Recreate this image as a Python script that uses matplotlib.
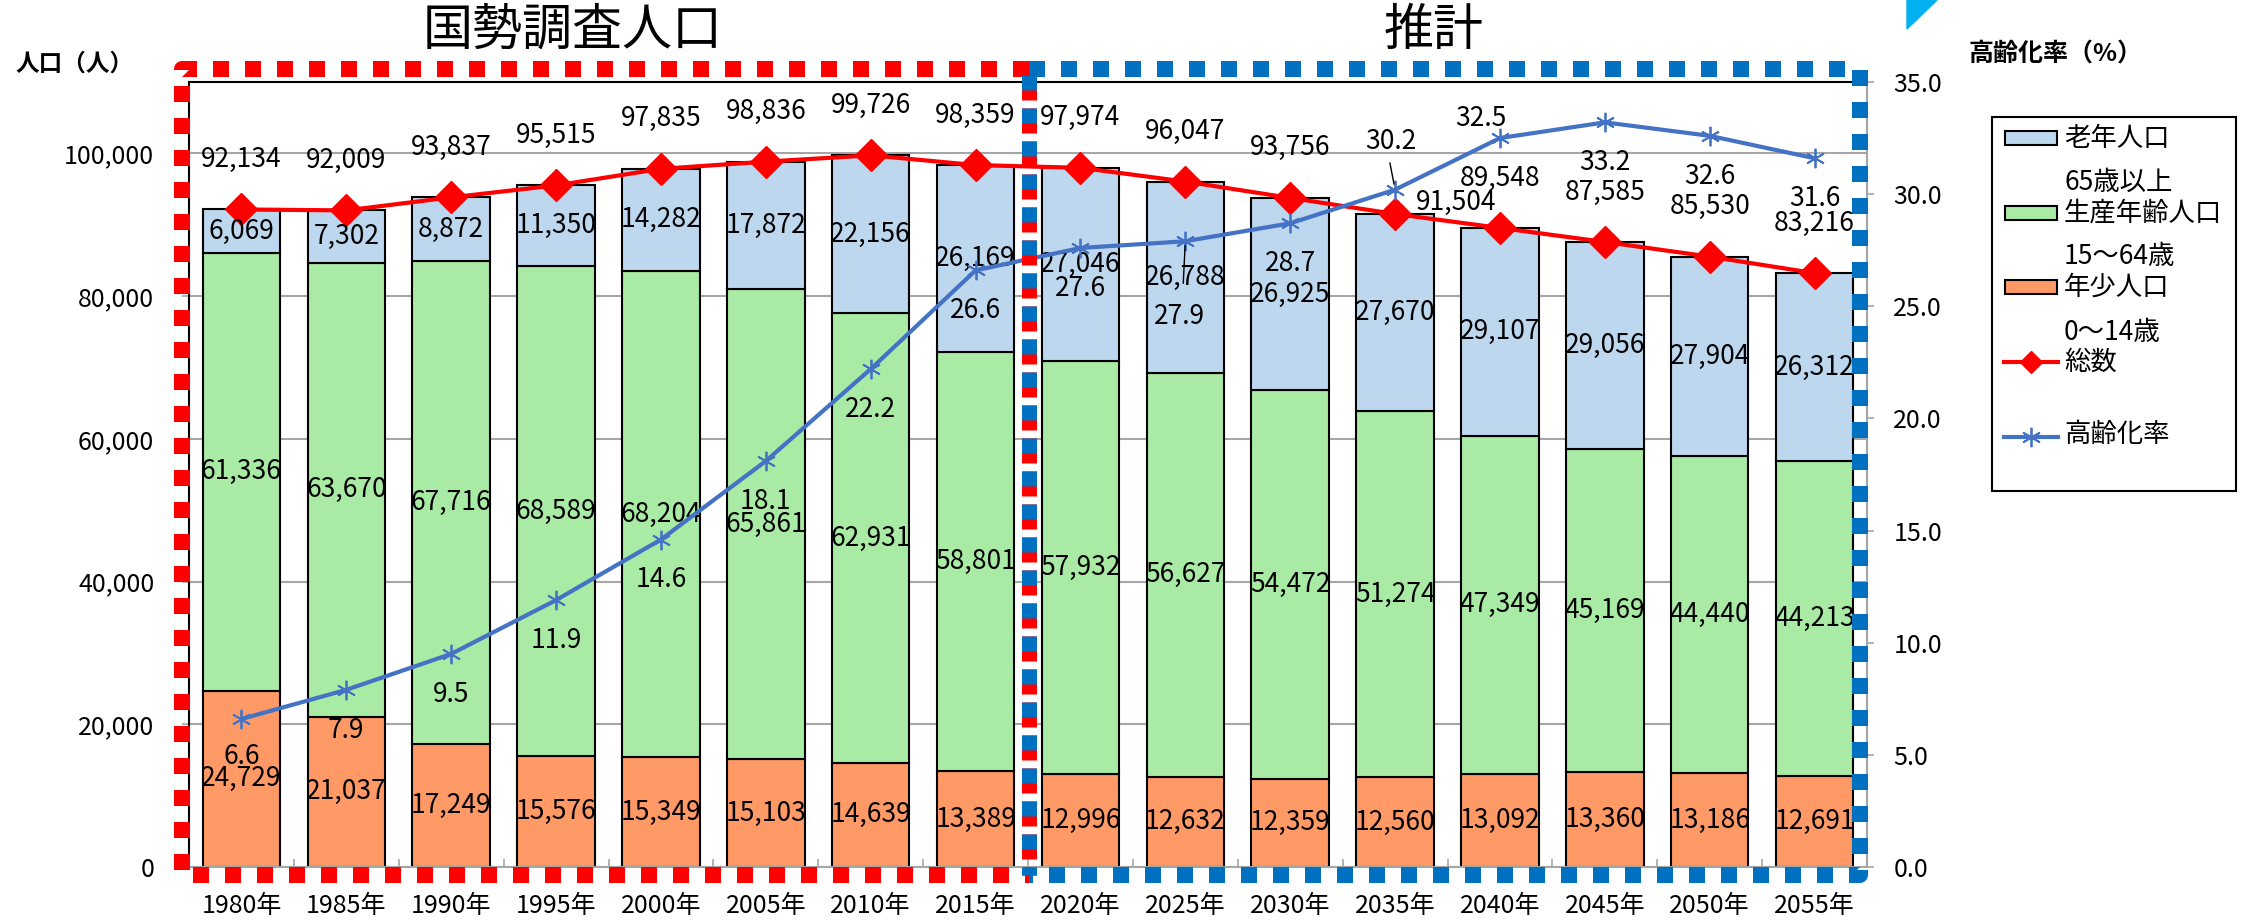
import matplotlib
matplotlib.use('Agg')
import matplotlib.pyplot as plt
from matplotlib.lines import Line2D
from matplotlib.patches import Rectangle, Polygon
import numpy as np

plt.rcParams['font.family'] = ['Noto Sans CJK JP', 'DejaVu Sans']

# ---------------- data ----------------
years = ['1980年', '1985年', '1990年', '1995年', '2000年', '2005年', '2010年', '2015年',
         '2020年', '2025年', '2030年', '2035年', '2040年', '2045年', '2050年', '2055年']
young = [24729, 21037, 17249, 15576, 15349, 15103, 14639, 13389,
         12996, 12632, 12359, 12560, 13092, 13360, 13186, 12691]
working = [61336, 63670, 67716, 68589, 68204, 65861, 62931, 58801,
           57932, 56627, 54472, 51274, 47349, 45169, 44440, 44213]
old = [6069, 7302, 8872, 11350, 14282, 17872, 22156, 26169,
       27046, 26788, 26925, 27670, 29107, 29056, 27904, 26312]
total = [92134, 92009, 93837, 95515, 97835, 98836, 99726, 98359,
         97974, 96047, 93756, 91504, 89548, 87585, 85530, 83216]
aging = [6.6, 7.9, 9.5, 11.9, 14.6, 18.1, 22.2, 26.6,
         27.6, 27.9, 28.7, 30.2, 32.5, 33.2, 32.6, 31.6]

# ---------------- style ----------------
C_OLD = '#BDD7EE'
C_WORK = '#A9EAA4'
C_YOUNG = '#FF9966'
C_RED = '#FF0000'
C_BLUE = '#4472C4'
C_GRID = '#A6A6A6'
LBL = 19

# label offsets in points
total_dx = [0] * 16
total_dy = [36] * 16
total_dx[11], total_dy[11] = 44, 8
aging_dx = [0] * 16
aging_dy = [-29] * 16
aging_dy[0] = -27
aging_dx[11], aging_dy[11] = -3, 35
aging_dx[12], aging_dy[12] = -14, 14
aging_dx[9], aging_dy[9] = -4, -54

W, H = 2247, 923
fig = plt.figure(figsize=(W / 100, H / 100), dpi=100)


def fx(px):
    return px / W


def fy(py):
    return 1 - py / H


ax = fig.add_axes([fx(189), fy(867), fx(1867) - fx(189), fy(82) - fy(867)])
x = np.arange(len(years))
bw = 0.74

young_a = np.array(young)
work_a = np.array(working)
old_a = np.array(old)

ax.bar(x, young_a, width=bw, color=C_YOUNG, edgecolor='black', linewidth=1.5, zorder=2)
ax.bar(x, work_a, width=bw, bottom=young_a, color=C_WORK, edgecolor='black', linewidth=1.5, zorder=2)
ax.bar(x, old_a, width=bw, bottom=young_a + work_a, color=C_OLD, edgecolor='black', linewidth=1.5, zorder=2)

ax.plot(x, total, color=C_RED, lw=3, marker='D', ms=16, mec=C_RED, zorder=4)

ax.set_xlim(-0.5, len(years) - 0.5)
ax.set_ylim(0, 110000)
ax.set_yticks(np.arange(0, 100001, 20000))
ax.yaxis.set_major_formatter(matplotlib.ticker.FuncFormatter(lambda v, p: f'{int(v):,}'))
ax.yaxis.grid(True, color=C_GRID, lw=1.5)
ax.set_axisbelow(True)
ax.set_xticks(x)
ax.set_xticklabels(years)
ax.set_xticks(np.arange(-0.5, len(years), 1), minor=True)
ax.tick_params(axis='x', which='major', length=0, pad=19, labelsize=18)
ax.tick_params(axis='x', which='minor', direction='in', length=6, color=C_GRID, width=1.2)
ax.tick_params(axis='y', length=5, width=1.2, color=C_GRID, pad=20, labelsize=18)

ax.spines['left'].set_color('black')
ax.spines['left'].set_linewidth(1.5)
ax.spines['top'].set_color('black')
ax.spines['top'].set_linewidth(1.5)
ax.spines['bottom'].set_color(C_GRID)
ax.spines['bottom'].set_linewidth(1.5)
ax.spines['right'].set_visible(False)

# segment labels
for i in range(len(years)):
    ax.text(x[i], young[i] / 2, f'{young[i]:,}', ha='center', va='center', fontsize=LBL, zorder=6)
    ax.text(x[i], young[i] + working[i] / 2, f'{working[i]:,}', ha='center', va='center', fontsize=LBL, zorder=6)
    ax.text(x[i], young[i] + working[i] + old[i] / 2, f'{old[i]:,}', ha='center', va='center', fontsize=LBL, zorder=6)
    ax.annotate(f'{total[i]:,}', (x[i], total[i]), xytext=(total_dx[i], total_dy[i]),
                textcoords='offset points', ha='center', va='center', fontsize=LBL, zorder=6)

ax2 = ax.twinx()
ax2.set_ylim(0, 35)
ax2.set_yticks(np.arange(0, 35.1, 5))
ax2.yaxis.set_major_formatter(matplotlib.ticker.FuncFormatter(lambda v, p: f'{v:.1f}'))
ax2.plot(x, aging, color=C_BLUE, lw=3, marker=(6, 2, 0), ms=14, mew=1.3, mec=C_BLUE, zorder=5)
for s in ['left', 'top', 'bottom']:
    ax2.spines[s].set_visible(False)
ax2.spines['right'].set_color(C_GRID)
ax2.spines['right'].set_linewidth(1.5)
ax2.tick_params(axis='y', length=5, width=1.2, color=C_GRID, pad=14, labelsize=18)

for i in range(len(years)):
    kw = {}
    if i == 11:
        kw['arrowprops'] = dict(arrowstyle='-', color='black', lw=1, shrinkA=4, shrinkB=4,
                                relpos=(0.45, 0.0))
    if i == 9:
        kw['arrowprops'] = dict(arrowstyle='-', color='black', lw=1, shrinkA=12, shrinkB=3,
                                relpos=(0.55, 1.0))
    ax2.annotate(f'{aging[i]:.1f}', (x[i], aging[i]), xytext=(aging_dx[i], aging_dy[i]),
                 textcoords='offset points', ha='center', va='center', fontsize=LBL, zorder=7, **kw)

# ---------------- titles / axis titles ----------------
fig.text(fx(573), fy(31), '国勢調査人口', fontsize=36, ha='center', va='center')
fig.text(fx(1434), fy(31), '推計', fontsize=36, ha='center', va='center')
fig.text(fx(75), fy(64), '人口（人）', fontsize=17, fontweight='bold', ha='center', va='center')
fig.text(fx(2056), fy(54), '高齢化率（%）', fontsize=18, fontweight='bold', ha='center', va='center')

# ---------------- dotted frames ----------------
lw_pt = 16 * 72 / 100


def fline(xs, ys, color, dashes, lw=lw_pt, z=10):
    ln = Line2D([fx(v) for v in xs], [fy(v) for v in ys], transform=fig.transFigure,
                color=color, lw=lw, linestyle=(0, dashes), solid_capstyle='butt',
                dash_capstyle='butt', zorder=z)
    fig.add_artist(ln)


fline([1029, 182, 182, 1029], [69, 69, 875, 875], C_RED, (1, 1))
fline([1029, 1860, 1860, 1029], [69, 69, 875, 875], '#0070C0', (1, 1))
fline([1029, 1029], [75, 875], C_RED, (25 / 15, 8 / 15), lw=15 * 72 / 100, z=11)
fline([1029, 1029], [75, 875], '#0070C0', (15 / 15, 18 / 15), lw=15 * 72 / 100, z=12)

# small triangle at top right
fig.add_artist(Polygon([(fx(1907), fy(0)), (fx(1937), fy(0)), (fx(1907), fy(29))],
                       closed=True, transform=fig.transFigure, color='#00B0F0', zorder=10))

# ---------------- legend (manual) ----------------
fig.add_artist(Rectangle((fx(1992), fy(491)), fx(2236) - fx(1992), fy(117) - fy(491),
                         transform=fig.transFigure, facecolor='white', edgecolor='black',
                         lw=1.5, zorder=8))
leg_fs = 19
tx = 2064
patches = [(C_OLD, 138, '老年人口'), (C_WORK, 213, '生産年齢人口'), (C_YOUNG, 287, '年少人口')]
for col, yc, lab in patches:
    fig.add_artist(Rectangle((fx(2005), fy(yc + 7)), fx(2057) - fx(2005), fy(yc - 7) - fy(yc + 7),
                             transform=fig.transFigure, facecolor=col, edgecolor='black',
                             lw=1.5, zorder=9))
    fig.text(fx(tx), fy(yc), lab, fontsize=leg_fs, ha='left', va='center', zorder=9)
for yc, lab in [(182, '65歳以上'), (257, '15～64歳'), (332, '0～14歳')]:
    fig.text(fx(tx), fy(yc), lab, fontsize=leg_fs, ha='left', va='center', zorder=9)
fig.add_artist(Line2D([fx(2004), fx(2058)], [fy(362), fy(362)], transform=fig.transFigure,
                      color=C_RED, lw=3, zorder=9))
fig.add_artist(Line2D([fx(2031)], [fy(362)], transform=fig.transFigure, color=C_RED,
                      marker='D', ms=11, zorder=9))
fig.text(fx(tx), fy(362), '総数', fontsize=leg_fs, ha='left', va='center', zorder=9)
fig.add_artist(Line2D([fx(2004), fx(2058)], [fy(437), fy(437)], transform=fig.transFigure,
                      color=C_BLUE, lw=3, zorder=9))
fig.add_artist(Line2D([fx(2031)], [fy(437)], transform=fig.transFigure, color=C_BLUE,
                      marker=(6, 2, 0), ms=14, mew=1.3, zorder=9))
fig.text(fx(tx), fy(435), '高齢化率', fontsize=leg_fs, ha='left', va='center', zorder=9)

fig.savefig('out.png', dpi=100)
